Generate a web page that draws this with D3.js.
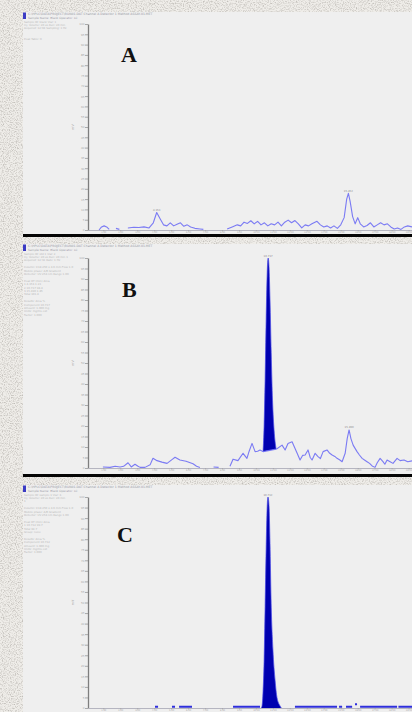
<!DOCTYPE html>
<html><head><meta charset="utf-8">
<script src="https://cdn.jsdelivr.net/npm/d3@7/dist/d3.min.js"></script>
<style>html,body{margin:0;padding:0;background:#ece9e4;overflow:hidden}svg{display:block}</style>
</head><body>
<script>
// ---------- DATA ----------
const timeTicks = [1,2,3,4,5,6,7,8,9,10,11,12,13,14,15,16,17,18,19];

// Panel A: noise trace (retention time, min / relative signal)
const timesA = [
 0.75,0.9,1.05,1.2,1.35,1.5,1.75,1.95,2.1,2.45,
 2.8,3.1,3.4,3.7,3.95,4.15,4.35,4.55,4.75,4.95,
 5.15,5.35,5.55,5.75,5.95,6.15,6.4,6.7,6.9,7.0,
 8.3,8.6,8.9,9.1,9.3,9.5,9.7,9.9,10.1,10.3,
 10.5,10.7,10.9,11.1,11.3,11.5,11.7,11.9,12.1,12.3,
 12.5,12.7,12.9,13.1,13.3,13.6,13.8,14.0,14.2,14.4,
 14.6,14.8,15.0,15.2,15.35,15.45,15.55,15.7,15.85,16.0,
 16.15,16.35,16.55,16.75,16.95,17.15,17.35,17.55,17.75,17.95,
 18.15,18.35,18.55,18.75,18.95,19.2];
const signalA = [
 0,1.5,2.0,1.5,0.3,null,0.8,0.3,null,1.0,
 1.3,1.2,1.5,1.0,3.5,8.5,5.5,2.5,2.0,3.5,
 2.0,2.8,3.5,1.8,2.5,1.5,0.8,0.5,0.3,null,
 0.5,1.5,2.5,2.0,3.8,3.2,4.5,3.0,4.2,2.5,
 3.5,2.0,3.0,2.5,3.8,2.0,3.8,4.8,3.5,4.6,
 3.0,1.0,2.5,2.0,3.0,4.2,2.5,1.5,2.0,1.0,
 2.0,0.8,2.5,6.0,15,17.8,14,6.5,3.0,6.0,
 3.0,1.5,2.2,3.5,1.5,2.5,3.5,2.5,3.0,1.5,
 0.5,1.0,0.3,1.5,2.0,1.5];

// Panel B: noise trace + main peak
const timesB = [
 0.98,1.4,1.7,1.99,2.2,2.46,2.65,2.87,3.05,3.17,
 3.46,3.76,3.93,4.17,4.46,4.76,5.05,5.23,5.52,5.88,
 6.29,6.5,6.7,7.12,7.5,7.8,8.2,8.47,8.65,8.94,
 9.24,9.47,9.6,9.77,9.95,10.1,10.24,10.42,11.19,11.24,
 11.54,11.72,11.89,12.13,12.43,12.6,12.75,12.9,13.07,13.2,
 13.31,13.49,13.66,13.8,13.96,14.19,14.35,14.49,14.65,14.78,
 14.95,15.08,15.26,15.38,15.49,15.6,15.73,15.96,16.1,16.26,
 16.4,16.55,16.7,16.85,17.02,17.15,17.32,17.49,17.6,17.73,
 17.91,18.08,18.32,18.5,18.73,18.95,19.2];
const signalB = [
 0.5,0.3,0.8,0.5,0.8,2.5,0.5,1.8,0.8,0.3,
 0.3,1.5,4.6,3.5,2.8,2.2,4.0,5.1,3.8,3.2,
 2.0,0.8,0.2,null,0.5,0.3,null,0.8,4.2,3.5,
 7.0,4.6,8.0,11.7,7.8,8.0,8.6,7.8,9.0,9.2,
 10.9,8.6,11.7,12.5,7.0,3.8,6.0,6.2,8.6,5.0,
 3.8,7.0,5.4,4.5,7.8,8.6,7.0,6.2,5.5,4.6,
 3.8,3.0,7.0,14.0,18.1,14.0,10.9,7.8,6.2,4.6,
 3.8,3.0,2.2,1.0,0.3,2.5,4.6,3.0,1.8,3.8,
 3.0,2.2,4.6,3.5,3.8,3.0,3.4];
const peakTimesB = [10.42,10.48,10.54,10.6,10.66,10.72,10.77,10.83,10.9,10.98,11.07,11.19];
const peakValsB  = [7.8,20,42,70,92,100,96,80,55,32,18,9];

// Panel C: baseline fragments + main peak
const timesC = [4.05,4.23,4.3, 5.05,5.23,5.3, 5.47,6.23,6.3, 8.65,10.24,10.3, 12.3,14.78,14.85,
 14.9,15.08,15.15, 15.31,15.67,15.75, 15.84,15.96,16.05, 16.14,18.32,18.35, 18.4,19.2];
const signalC = [0.6,0.6,null, 0.6,0.6,null, 0.6,0.6,null, 0.6,0.6,null, 0.6,0.6,null,
 0.6,0.6,null, 0.6,0.6,null, 1.8,1.8,null, 0.6,0.6,null, 0.6,0.6];
const peakTimesC = [10.3,10.36,10.42,10.48,10.54,10.6,10.66,10.71,10.77,10.83,10.89,11.0,11.13,11.24,11.42,11.5];
const peakValsC  = [0,1,8,22,48,75,95,100,96,78,52,28,13,5,1,0];

// Text
const panelLetters = ["A","B","C"];
const headerLines = [
 "C:\\HPLC\\DATA\\PROJECT\\RUN01.DAT  Channel A  Detector 1  Method ASSAY-01.MET",
 "Sample Name: Blank   Operator: LC"];
const infoA = ["Sample ID:  blank      Vial: 1","Inj. Volume: 20 uL   Run: 20 min","Acquired:  12:04     Sampling: 1 Hz","","","Peak Table:        0"];
const infoB = ["Sample ID:  std 1      Vial: 2","Inj. Volume: 20 uL   Run: 20 min  1","Acquired:  12:31  Rate: 1 Hz","","Column: C18 250 x 4.6 mm   Flow 1.0","Mobile phase:  A/B   Gradient","Detector:  UV 254 nm   Range  1.00",
 "","Peak  RT (min)   Area","1     4.153     1.21","2     10.717    98.4","3     15.490    1.85","Total            101.4","", "Results:        Area %","Component         10.717","Amount:    1.000   mg","Units:     mg/mL   ext","Factor:    1.000"];
const infoC = ["Sample ID:  sample 1   Vial: 3","Inj. Volume: 20 uL   Run: 20 min","  1","","Column: C18 250 x 4.6 mm   Flow 1.0","Mobile phase:  A/B   Gradient","Detector:  UV 254 nm   Range  1.00","",
 "Peak  RT (min)   Area","1     10.712    99.7","Total            99.7","Group:  none","", "Results:        Area %","Component         10.712","Amount:    1.000   mg","Units:     mg/mL   ext","Factor:    1.000"];
const yTitle = "mV";
const peakLabelA = [[4.15,"4.153"],[15.45,"15.452"]];
const peakLabelB = [[10.72,"10.717"],[15.49,"15.490"]];
const peakLabelC = [[10.71,"10.712"]];

// ---------- DRAWING ----------
const W = 412, H = 712;
const svg = d3.select("body").append("svg").attr("width", W).attr("height", H);
const defs = svg.append("defs");
const f = defs.append("filter").attr("id","tex").attr("filterUnits","userSpaceOnUse")
  .attr("x",0).attr("y",0).attr("width",W).attr("height",H);
f.append("feTurbulence").attr("type","fractalNoise").attr("baseFrequency","0.85").attr("numOctaves",2).attr("seed",7).attr("result","n");
f.append("feColorMatrix").attr("in","n").attr("type","matrix")
  .attr("values","0 0 0 0 0.52  0 0 0 0 0.5  0 0 0 0 0.47  2.4 0 0 0 -1.05");
defs.append("clipPath").attr("id","plotclip").append("rect").attr("x",88).attr("y",0).attr("width",324).attr("height",H);

svg.append("rect").attr("width",W).attr("height",H).attr("fill","#efede9");
svg.append("rect").attr("width",W).attr("height",H).attr("filter","url(#tex)");

const x = d3.scaleLinear().domain([0.1, 19.2]).range([88, 412]);

const panels = [
  {top:12, bottom:234, axisTop:24, base:230, letterX:121, letterY:62, info:infoA, labels:peakLabelA,
   times:timesA, sig:signalA, pt:null, pv:null, fillBase:false},
  {top:244, bottom:474, axisTop:258, base:468, letterX:122, letterY:297, info:infoB, labels:peakLabelB,
   times:timesB, sig:signalB, pt:peakTimesB, pv:peakValsB, fillBase:false},
  {top:485, bottom:712, axisTop:497, base:708, letterX:117, letterY:542, info:infoC, labels:peakLabelC,
   times:timesC, sig:signalC, pt:peakTimesC, pv:peakValsC, fillBase:true}
];

panels.forEach((p, i) => {
  const g = svg.append("g");
  g.append("rect").attr("x",23).attr("y",p.top).attr("width",W-23).attr("height",p.bottom-p.top).attr("fill","#efefef");
  g.append("rect").attr("x",23).attr("y",p.top+0.5).attr("width",3).attr("height",6.5).attr("fill","#3b3bc4");
  headerLines.forEach((t,k) => g.append("text").attr("x",28).attr("y",p.top+3.2+k*3.3)
     .attr("font-family","DejaVu Sans").attr("font-size", k===0?3.1:2.9).attr("fill","#9a9aa6").text(t));
  p.info.forEach((t,k) => g.append("text").attr("x",24).attr("y",p.top+10.5+k*3.4)
     .attr("font-family","DejaVu Sans").attr("font-size",2.7).attr("fill","#b8b8b8").text(t));

  const y = d3.scaleLinear().domain([0,100]).range([p.base, p.axisTop]);

  // y axis
  const ya = g.append("g").attr("transform","translate(88,0)")
    .call(d3.axisLeft(y).ticks(25).tickSize(3).tickSizeOuter(0).tickFormat(d3.format("d")));
  ya.select(".domain").attr("stroke","#7e7e7e").attr("stroke-width",1.3);
  ya.selectAll(".tick line").attr("stroke","#8c8c8c").attr("stroke-width",0.7);
  ya.selectAll(".tick text").attr("font-size",2.8).attr("fill","#a8a8a8").attr("font-family","DejaVu Sans").attr("x",-3.5);
  g.append("text").attr("transform",`translate(74,${(p.base+p.axisTop)/2}) rotate(-90)`)
    .attr("text-anchor","middle").attr("font-family","DejaVu Sans").attr("font-size",3.2).attr("fill","#a0a0a0").text(yTitle);

  // x axis
  const xa = g.append("g").attr("transform",`translate(0,${p.base})`)
    .call(d3.axisBottom(x).tickValues(timeTicks).tickSize(1.5).tickSizeOuter(0).tickFormat(d => d.toFixed(2)));
  xa.select(".domain").attr("stroke","#a6a6b4").attr("stroke-width",0.8);
  xa.selectAll(".tick line").attr("stroke","#a0a0a0").attr("stroke-width",0.6);
  xa.selectAll(".tick text").attr("font-size",2.3).attr("fill","#a8a8a8").attr("font-family","DejaVu Sans")
    .attr("y",1.3).attr("dy","0.72em");

  const plot = g.append("g").attr("clip-path","url(#plotclip)");

  // peak fill
  if (p.pt) {
    const n = p.pt.length;
    const b0 = p.pv[0], b1 = p.pv[n-1], t0 = p.pt[0], t1 = p.pt[n-1];
    const baseAt = t => p.fillBase ? 0 : b0 + (b1-b0)*(t-t0)/(t1-t0);
    const pts = p.pt.map((t,k)=>({t, v:p.pv[k]}));
    plot.append("path").datum(pts)
      .attr("d", d3.area().x(d=>x(d.t)).y0(d=>y(baseAt(d.t))).y1(d=>y(d.v)).curve(d3.curveMonotoneX))
      .attr("fill","#0000b0");
    plot.append("path").datum(pts)
      .attr("d", d3.line().x(d=>x(d.t)).y(d=>y(d.v)).curve(d3.curveMonotoneX))
      .attr("fill","none").attr("stroke","#4a4ae6").attr("stroke-width",0.7);
  }

  // trace
  const tr = p.times.map((t,k)=>({t, v:p.sig[k]}));
  plot.append("path").datum(tr)
    .attr("d", d3.line().defined(d=>d.v!==null).x(d=>x(d.t)).y(d=>y(d.v)))
    .attr("fill","none")
    .attr("stroke", i===2 ? "#2f2fdc" : "#6e6ef4")
    .attr("stroke-width", i===2 ? 2 : 1.1)
    .attr("stroke-opacity", i===2 ? 1 : 0.9)
    .attr("stroke-linejoin","round");

  // peak labels
  p.labels.forEach(([t,l]) => {
    const k = p.pt && t > p.pt[0] && t < p.pt[p.pt.length-1] ? 100 : d3.max(p.times.map((tt,j)=>Math.abs(tt-t)<0.15?p.sig[j]:0));
    g.append("text").attr("x",x(t)).attr("y",y(k)-1.5).attr("text-anchor","middle")
      .attr("font-family","DejaVu Sans").attr("font-size",2.6).attr("fill","#8a8a8a").text(l);
  });

  g.append("text").attr("x",p.letterX).attr("y",p.letterY)
    .attr("font-family","Liberation Serif, Times New Roman, serif").attr("font-weight","bold")
    .attr("font-size",22).attr("fill","#111").text(panelLetters[i]);
});

// black separators
[234, 474].forEach(yy => svg.append("rect").attr("x",23).attr("y",yy).attr("width",W-23).attr("height",3).attr("fill","#050505"));
</script>
</body></html>
